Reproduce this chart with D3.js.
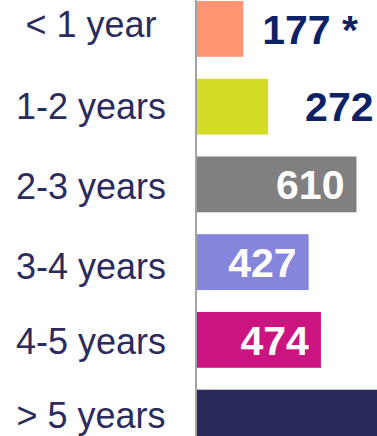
<!DOCTYPE html>
<html>
<head>
<meta charset="utf-8">
<script src="https://cdn.jsdelivr.net/npm/d3@7"></script>
<style>
  html, body { margin: 0; padding: 0; background: #fff; }
  svg { display: block; }
</style>
</head>
<body>
<svg id="chart" width="377" height="436"></svg>
<script>
// Tenure groups and their counts
const categories = ["< 1 year", "1-2 years", "2-3 years", "3-4 years", "4-5 years", "> 5 years"];
const values = [177, 272, 610, 427, 474, 1000];
const valueLabels = ["177 *", "272", "610", "427", "474", "1000"];
const barColors = ["#ff9473", "#d4dc28", "#808080", "#8585dc", "#cc1480", "#2a2a5c"];

const W = 377, H = 436;
const svg = d3.select("#chart");

const y = d3.scaleBand()
  .domain(categories)
  .range([1, 445.5])
  .paddingInner(0.282)
  .paddingOuter(0);

const x = d3.scaleLinear()
  .domain([0, 700])
  .range([197, 380]);

const rows = categories.map((c, i) => ({
  cat: c, value: values[i], label: valueLabels[i], color: barColors[i]
}));

// Bars
svg.append("g")
  .selectAll("rect")
  .data(rows)
  .join("rect")
  .attr("x", x(0))
  .attr("y", d => y(d.cat))
  .attr("width", d => x(d.value) - x(0))
  .attr("height", y.bandwidth())
  .attr("fill", d => d.color);

// Category axis line
svg.append("line")
  .attr("x1", 196).attr("x2", 196)
  .attr("y1", 0).attr("y2", H)
  .attr("stroke", "#8c8c8c")
  .attr("stroke-width", 1.6);

// Category labels (small vertical nudges so the text sits as laid out on the slide)
const labelNudge = { "< 1 year": -5, "2-3 years": 2, "3-4 years": 4, "4-5 years": 2, "> 5 years": -2.5 };
svg.append("g")
  .selectAll("text")
  .data(rows)
  .join("text")
  .attr("x", 91)
  .attr("y", d => y(d.cat) + y.bandwidth() / 2 + (labelNudge[d.cat] || 0))
  .attr("dy", "0.35em")
  .attr("text-anchor", "middle")
  .attr("font-family", "'Liberation Sans', Arial, sans-serif")
  .attr("font-size", 36)
  .attr("fill", "#2b2b5e")
  .text(d => d.cat);

// Value labels: inside the bar end when the bar is long enough, otherwise after it
const insideMin = 300;
const outsideGap = { "< 1 year": 19, "1-2 years": 37 };
const labelRows = rows.filter(d => x(d.value) - 11 <= W);

svg.append("g")
  .selectAll("text")
  .data(labelRows)
  .join("text")
  .attr("x", d => d.value >= insideMin ? x(d.value) - 12 : x(d.value) + (outsideGap[d.cat] || 12))
  .attr("y", d => y(d.cat) + y.bandwidth() / 2)
  .attr("dy", "0.36em")
  .attr("text-anchor", d => d.value >= insideMin ? "end" : "start")
  .attr("font-family", "'Liberation Sans', Arial, sans-serif")
  .attr("font-weight", "bold")
  .attr("font-size", 41)
  .attr("fill", d => d.value >= insideMin ? "#ffffff" : "#0c2264")
  .text(d => d.label);
</script>
</body>
</html>
